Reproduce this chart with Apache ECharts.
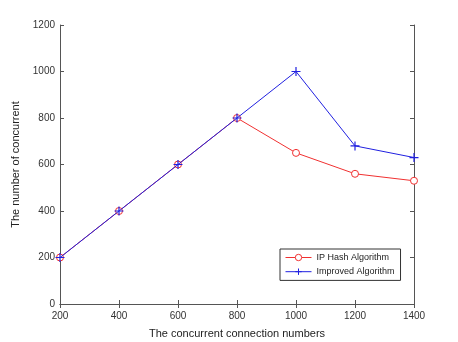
<!DOCTYPE html>
<html>
<head>
<meta charset="utf-8">
<script src="https://cdn.jsdelivr.net/npm/echarts@6/dist/echarts.min.js"></script>
<style>
  html, body { margin: 0; padding: 0; background: #fff; }
  #chart { width: 458px; height: 342px; }
</style>
</head>
<body>
<div id="chart"></div>
<script>
var connections = [200, 400, 600, 800, 1000, 1200, 1400];
var ipHash = [200, 400, 600, 800, 650, 560, 530];
var improved = [200, 400, 600, 800, 1000, 680, 630];

var chart = echarts.init(document.getElementById("chart"));
var font = "Liberation Sans";
var plusSymbol = 'path://M0,-5L0,5M-5,0L5,0';

function pairs(xs, ys) {
    return xs.map(function (x, i) { return [x, ys[i]]; });
}
function plain(v) { return String(v); }

var axisLine = { show: true, lineStyle: { color: '#555', width: 1 } };
var tick = { show: true, inside: true, length: 4, lineStyle: { color: '#555' } };

option = {
    animation: false,
    textStyle: { fontFamily: font },
    grid: { left: 60, right: 44, top: 25, bottom: 38, outerBoundsMode: 'none' },
    legend: {
        orient: 'vertical',
        left: 280,
        top: 249,
        itemWidth: 26,
        itemHeight: 8,
        itemGap: 4,
        padding: [4, 6, 3, 5],
        borderColor: '#333',
        borderWidth: 1,
        lineStyle: { width: 1 },
        itemStyle: { borderWidth: 1 },
        textStyle: { fontFamily: font, fontSize: 9, color: '#222' },
        data: ['IP Hash Algorithm', 'Improved Algorithm']
    },
    xAxis: [
        {
            type: 'value', min: 200, max: 1400, interval: 200,
            name: 'The concurrent connection numbers',
            nameLocation: 'middle', nameGap: 24,
            nameTextStyle: { fontFamily: font, fontSize: 11, color: '#222' },
            axisLine: axisLine, axisTick: tick,
            axisLabel: { fontFamily: font, fontSize: 10, color: '#333', margin: 7, formatter: plain },
            splitLine: { show: false }
        },
        {
            type: 'value', min: 200, max: 1400, interval: 200, position: 'top',
            axisLine: axisLine, axisTick: tick, axisLabel: { show: false },
            splitLine: { show: false }
        }
    ],
    yAxis: [
        {
            type: 'value', min: 0, max: 1200, interval: 200,
            name: 'The number of concurrent',
            nameLocation: 'middle', nameGap: 31,
            nameTextStyle: { fontFamily: font, fontSize: 11, color: '#222' },
            axisLine: axisLine, axisTick: tick,
            axisLabel: { fontFamily: font, fontSize: 10, color: '#333', margin: 5, formatter: plain },
            splitLine: { show: false }
        },
        {
            type: 'value', min: 0, max: 1200, interval: 200, position: 'right',
            axisLine: axisLine, axisTick: tick, axisLabel: { show: false },
            splitLine: { show: false }
        }
    ],
    series: [
        {
            name: 'IP Hash Algorithm',
            type: 'line',
            data: pairs(connections, ipHash),
            symbol: 'circle',
            symbolSize: 7,
            showAllSymbol: true,
            lineStyle: { color: '#f03030', width: 1 },
            itemStyle: { color: '#fff', borderColor: '#f03030', borderWidth: 1 },
            z: 2
        },
        {
            name: 'Improved Algorithm',
            type: 'line',
            data: pairs(connections, improved),
            symbol: plusSymbol,
            symbolSize: 9,
            showAllSymbol: true,
            lineStyle: { color: '#2020e0', width: 1 },
            itemStyle: { color: 'none', borderColor: '#2020e0', borderWidth: 1.2 },
            z: 3
        }
    ]
};

chart.setOption(option);
</script>
</body>
</html>
